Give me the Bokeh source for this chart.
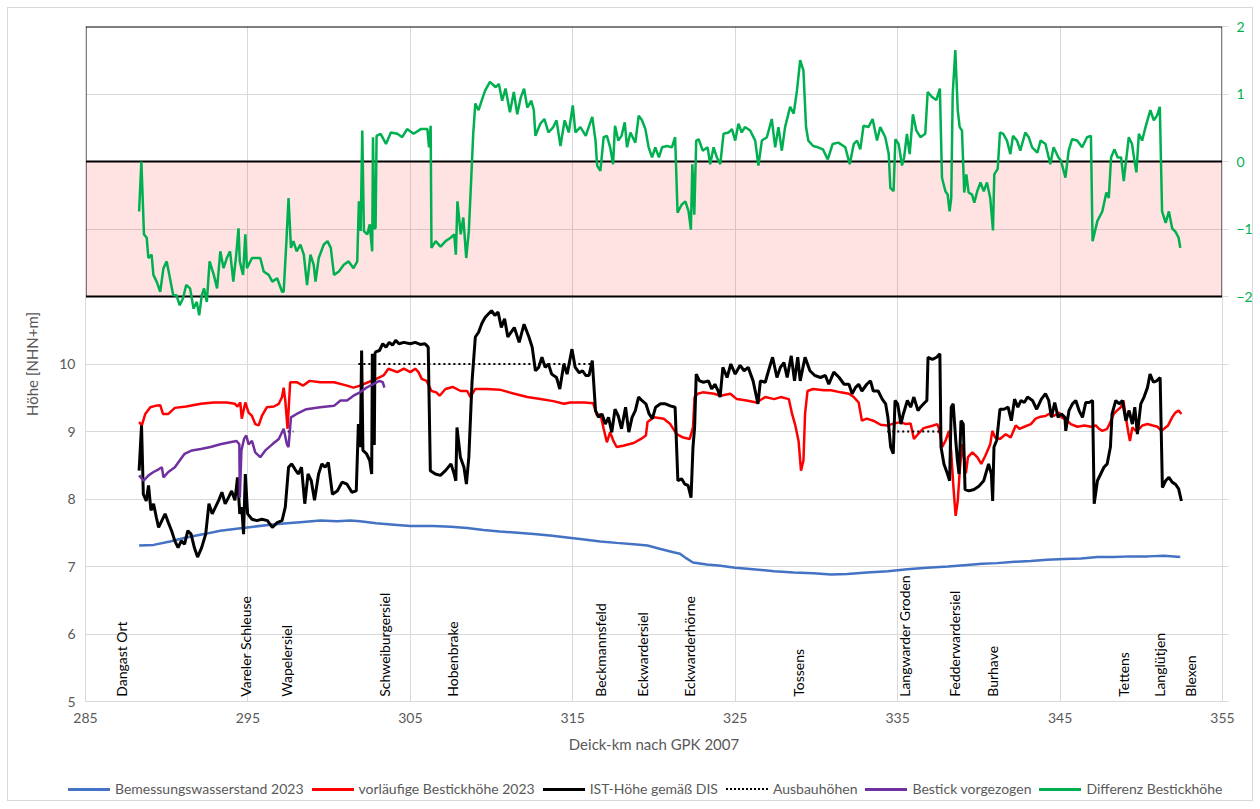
import math
from bokeh.plotting import figure
from bokeh.layouts import column
from bokeh.models import Range1d, LinearAxis, FixedTicker, Div, InlineStyleSheet
from bokeh.core.properties import value
from bokeh.embed import file_html
from bokeh.resources import INLINE

# ---------------- data ----------------
km_axis_ticks = [285, 295, 305, 315, 325, 335, 345, 355]
hoehe_ticks = [5, 6, 7, 8, 9, 10, 11, 12, 13, 14, 15]
diff_ticks = [-8, -7, -6, -5, -4, -3, -2, -1, 0, 1, 2]

bem_km = [288.3, 289.2, 290.2, 291.2, 292.3, 293.3, 294.3, 295.35, 296.4, 297.4, 298.4, 299.45, 300.5, 301.3, 301.9,
          302.9, 304.0, 305.0, 306.4, 307.5, 308.5, 309.5, 310.5, 311.6, 312.6, 313.6, 314.65, 315.7, 316.7, 317.7,
          318.75, 319.6, 320.4, 321.2, 321.6, 322.0, 322.4, 323.25, 324.1, 325.0, 326.1, 327.4, 328.6, 329.8, 330.9,
          331.9, 333.1, 334.4, 335.6, 336.8, 338.1, 339.1, 340.2, 341.1, 342.2, 343.2, 344.2, 345.25, 346.3, 347.3,
          348.3, 349.35, 350.4, 351.4, 352.4]
bem_h = [7.31, 7.32, 7.37, 7.43, 7.48, 7.53, 7.56, 7.59, 7.62, 7.64, 7.66, 7.68, 7.67, 7.68, 7.67,
         7.64, 7.62, 7.60, 7.60, 7.59, 7.57, 7.54, 7.52, 7.50, 7.48, 7.46, 7.43, 7.40, 7.37, 7.35,
         7.33, 7.31, 7.26, 7.21, 7.19, 7.12, 7.06, 7.03, 7.01, 6.98, 6.96, 6.93, 6.91, 6.90, 6.88,
         6.89, 6.91, 6.93, 6.96, 6.98, 7.00, 7.02, 7.04, 7.05, 7.07, 7.08, 7.10, 7.11, 7.12, 7.14,
         7.14, 7.15, 7.15, 7.16, 7.14]

best_km = [288.30, 288.47, 288.68, 288.99, 289.30, 289.60, 289.77, 290.10, 290.50, 291.20, 292.10, 292.90, 293.70,
           294.20, 294.36, 294.53, 294.62, 294.84, 295.04, 295.25, 295.45, 295.66, 295.86, 296.17, 296.60, 296.90,
           297.10, 297.20, 297.30, 297.44, 297.60, 298.00, 298.40, 298.80, 299.45, 300.30, 301.10, 301.50, 301.90,
           302.40, 302.90, 303.35, 303.65, 304.20, 304.60, 305.00, 305.30, 305.50, 305.70, 306.00, 306.30, 306.60,
           306.80, 307.16, 307.60, 308.10, 308.50, 308.70, 309.00, 309.70, 310.50, 311.40, 312.20, 313.00, 313.80,
           314.45, 314.85, 315.70, 316.25, 316.50, 316.70, 316.90, 317.10, 317.30, 317.50, 317.70, 318.10, 318.75,
           319.20, 319.50, 319.60, 320.00, 320.60, 321.00, 321.40, 321.80, 322.20, 322.40, 322.50, 322.70, 323.00,
           323.70, 324.10, 324.70, 325.10, 325.70, 326.30, 326.85, 327.40, 327.80, 328.30, 328.50, 328.70, 328.90,
           329.05, 329.20, 329.30, 329.45, 329.80, 330.45, 330.90, 331.50, 332.00, 332.30, 332.60, 332.80, 333.10,
           333.50, 333.95, 334.35, 334.80, 335.20, 335.50, 335.80, 336.00, 336.25, 336.60, 337.20, 337.44, 337.55,
           337.75, 337.96, 338.16, 338.30, 338.43, 338.57, 338.70, 338.84, 338.98, 339.08, 339.20, 339.33, 339.60,
           339.90, 340.15, 340.40, 340.70, 340.83, 341.00, 341.30, 341.65, 341.96, 342.27, 342.50, 342.80, 343.20,
           343.50, 343.80, 344.10, 344.30, 344.60, 344.94, 345.10, 345.45, 345.66, 346.07, 346.50, 346.90, 347.20,
           347.40, 347.60, 347.90, 348.10, 348.30, 348.50, 348.74, 348.90, 349.05, 349.20, 349.30, 349.45, 349.66,
           349.87, 350.07, 350.38, 350.70, 351.00, 351.24, 351.40, 351.65, 351.90, 352.10, 352.30, 352.47]
best_h = [9.14, 9.09, 9.26, 9.36, 9.38, 9.39, 9.26, 9.26, 9.35, 9.37, 9.41, 9.43, 9.43,
          9.41, 9.37, 9.43, 9.19, 9.43, 9.28, 9.23, 9.11, 9.09, 9.23, 9.36, 9.37, 9.41,
          9.51, 9.65, 9.46, 9.04, 9.73, 9.73, 9.68, 9.75, 9.73, 9.73, 9.68, 9.65, 9.68,
          9.73, 9.78, 9.83, 9.93, 9.88, 9.93, 9.88, 9.93, 9.88, 9.78, 9.75, 9.60, 9.58,
          9.53, 9.63, 9.66, 9.60, 9.60, 9.51, 9.63, 9.63, 9.62, 9.56, 9.51, 9.48, 9.45,
          9.41, 9.43, 9.43, 9.42, 9.23, 9.26, 9.04, 8.84, 8.99, 8.86, 8.77, 8.79, 8.83,
          8.89, 8.94, 9.14, 9.21, 9.19, 9.11, 8.96, 8.91, 8.89, 9.06, 9.51, 9.56, 9.58,
          9.56, 9.53, 9.56, 9.48, 9.46, 9.43, 9.51, 9.48, 9.51, 9.48, 9.26, 9.09, 8.86,
          8.42, 8.57, 9.26, 9.60, 9.63, 9.61, 9.61, 9.58, 9.56, 9.51, 9.43, 9.16, 9.19,
          9.16, 9.10, 9.09, 9.12, 9.14, 9.11, 9.12, 8.89, 8.96, 9.05, 9.09, 9.11, 9.04,
          8.77, 8.87, 9.01, 8.69, 8.19, 7.75, 7.97, 8.47, 8.81, 8.62, 8.38, 8.62, 8.69,
          8.62, 8.52, 8.64, 8.81, 9.01, 8.91, 8.89, 8.96, 8.91, 9.09, 9.04, 9.07, 9.11,
          9.19, 9.22, 9.23, 9.26, 9.23, 9.28, 9.21, 9.16, 9.11, 9.07, 9.09, 9.07, 9.09,
          9.04, 9.01, 9.04, 9.14, 9.26, 9.31, 9.36, 9.46, 9.21, 8.99, 8.86, 9.06, 9.01,
          9.04, 9.09, 9.11, 9.09, 9.07, 9.01, 9.04, 9.09, 9.21, 9.28, 9.31, 9.26]

ist_km = [288.30, 288.45, 288.56, 288.74, 288.88, 289.03, 289.19, 289.36, 289.50, 289.70, 289.90, 290.10, 290.30,
          290.50, 290.70, 290.90, 291.10, 291.30, 291.50, 291.70, 291.90, 292.15, 292.40, 292.60, 292.80, 293.00,
          293.20, 293.40, 293.60, 293.80, 294.00, 294.20, 294.36, 294.50, 294.62, 294.73, 294.84, 294.98, 295.25,
          295.55, 295.86, 296.20, 296.50, 296.80, 297.10, 297.30, 297.50, 297.70, 297.90, 298.10, 298.30, 298.50,
          298.70, 298.90, 299.10, 299.35, 299.55, 299.75, 299.95, 300.20, 300.50, 300.80, 301.10, 301.40, 301.67,
          301.80, 301.92, 302.00, 302.08, 302.30, 302.50, 302.62, 302.66, 302.70, 302.74, 302.78, 302.82, 302.86,
          303.10, 303.30, 303.50, 303.70, 303.90, 304.10, 304.30, 304.60, 305.00, 305.30, 305.60, 305.90, 306.10,
          306.23, 306.54, 306.85, 307.16, 307.50, 307.70, 307.80, 307.87, 308.08, 308.30, 308.45, 308.60, 308.80,
          309.00, 309.20, 309.40, 309.60, 309.80, 310.00, 310.20, 310.40, 310.60, 310.80, 311.00, 311.40, 311.70,
          312.00, 312.30, 312.50, 312.70, 312.90, 313.10, 313.30, 313.50, 313.70, 314.00, 314.20, 314.45, 314.65,
          314.95, 315.15, 315.40, 315.60, 315.80, 316.00, 316.20, 316.40, 316.60, 316.80, 317.00, 317.20, 317.40,
          317.60, 317.80, 318.00, 318.25, 318.45, 318.65, 318.85, 319.05, 319.25, 319.50, 319.70, 319.90, 320.10,
          320.40, 320.70, 321.00, 321.30, 321.47, 321.70, 321.90, 322.10, 322.28, 322.40, 322.50, 322.60, 322.80,
          323.05, 323.35, 323.55, 323.75, 323.95, 324.07, 324.24, 324.50, 324.73, 325.00, 325.30, 325.55, 325.80,
          326.10, 326.40, 326.55, 326.85, 327.05, 327.30, 327.57, 327.78, 328.00, 328.20, 328.45, 328.65, 328.85,
          329.00, 329.30, 329.60, 329.90, 330.25, 330.55, 330.76, 331.07, 331.40, 331.70, 332.00, 332.20, 332.40,
          332.60, 332.80, 333.10, 333.33, 333.50, 333.80, 334.05, 334.26, 334.40, 334.57, 334.73, 334.84, 335.00,
          335.20, 335.35, 335.60, 335.80, 336.00, 336.25, 336.40, 336.60, 336.80, 336.87, 337.14, 337.40, 337.60,
          337.67, 337.85, 338.07, 338.20, 338.30, 338.42, 338.58, 338.68, 338.78, 338.90, 339.04, 339.15, 339.40,
          339.70, 340.00, 340.30, 340.60, 340.77, 340.85, 340.93, 341.10, 341.30, 341.55, 341.80, 342.00, 342.20,
          342.40, 342.60, 342.80, 343.00, 343.30, 343.56, 343.85, 344.10, 344.30, 344.47, 344.67, 344.88, 345.08,
          345.30, 345.35, 345.55, 345.76, 345.97, 346.17, 346.38, 346.58, 346.79, 347.00, 347.10, 347.30, 347.50,
          347.70, 347.90, 348.10, 348.20, 348.43, 348.63, 348.84, 349.05, 349.25, 349.45, 349.60, 349.76, 349.97,
          350.17, 350.38, 350.54, 350.75, 350.95, 351.16, 351.30, 351.50, 351.70, 351.90, 352.10, 352.30, 352.47]
ist_h = [8.42, 9.09, 8.07, 7.97, 8.20, 7.83, 7.93, 7.73, 7.58, 7.68, 7.78, 7.65, 7.53,
         7.38, 7.28, 7.38, 7.33, 7.53, 7.48, 7.28, 7.14, 7.28, 7.48, 7.93, 7.78, 7.88,
         7.98, 8.10, 7.93, 8.02, 8.12, 7.98, 8.32, 7.78, 7.88, 7.48, 8.37, 7.78, 7.70,
         7.68, 7.70, 7.68, 7.58, 7.65, 7.68, 7.88, 8.47, 8.52, 8.44, 8.37, 8.47, 7.93,
         8.37, 8.27, 7.98, 8.37, 8.52, 8.47, 8.54, 8.07, 8.12, 8.25, 8.22, 8.10, 8.12,
         9.11, 8.77, 10.20, 8.72, 8.67, 8.57, 8.37, 10.15, 8.80, 10.15, 8.80, 10.15, 10.18,
         10.20, 10.30, 10.25, 10.32, 10.28, 10.35, 10.30, 10.32, 10.30, 10.32, 10.29, 10.30, 10.25,
         8.42, 8.37, 8.35, 8.42, 8.52, 8.37, 8.27, 9.06, 8.62, 8.47, 8.22, 8.62, 9.75,
         10.40, 10.47, 10.60, 10.69, 10.74, 10.79, 10.72, 10.77, 10.54, 10.67, 10.40, 10.54, 10.32,
         10.59, 10.40, 10.25, 9.90, 9.95, 10.10, 9.95, 10.00, 9.85, 9.80, 9.63, 10.00, 9.85,
         10.22, 9.95, 9.87, 9.90, 9.83, 9.83, 10.05, 9.31, 9.21, 9.26, 9.11, 9.21, 8.99,
         9.33, 9.23, 9.04, 9.36, 8.99, 9.21, 9.31, 9.51, 9.46, 9.41, 9.26, 9.19, 9.36,
         9.41, 9.41, 9.38, 9.36, 8.27, 8.30, 8.22, 8.20, 8.02, 8.77, 9.06, 9.85, 9.75,
         9.73, 9.75, 9.63, 9.70, 9.60, 9.51, 9.95, 9.80, 10.00, 9.85, 9.98, 9.90, 9.95,
         9.75, 9.41, 9.75, 9.73, 9.90, 10.10, 9.80, 9.95, 10.02, 9.80, 10.12, 9.75, 10.10,
         9.75, 10.10, 9.90, 9.83, 9.80, 9.83, 9.70, 9.88, 9.80, 9.70, 9.70, 9.56, 9.65,
         9.70, 9.60, 9.70, 9.75, 9.60, 9.60, 9.48, 9.41, 9.21, 8.77, 8.67, 9.46, 9.41,
         9.11, 9.26, 9.46, 9.36, 9.51, 9.31, 9.36, 9.41, 9.46, 10.10, 10.07, 10.10, 10.15,
         8.77, 8.52, 8.37, 8.27, 9.36, 9.41, 8.86, 8.57, 8.37, 9.16, 9.11, 8.14, 8.12,
         8.14, 8.19, 8.27, 8.52, 8.37, 7.97, 8.77, 8.87, 9.33, 9.33, 9.36, 9.16, 9.48,
         9.36, 9.46, 9.43, 9.51, 9.46, 9.33, 9.48, 9.56, 9.46, 9.21, 9.43, 9.21, 9.26,
         9.21, 9.01, 9.31, 9.41, 9.46, 9.31, 9.21, 9.43, 9.43, 9.46, 7.93, 8.27, 8.37,
         8.47, 8.52, 8.77, 9.26, 9.46, 9.41, 9.46, 9.16, 9.31, 9.11, 9.36, 8.96, 9.41,
         9.51, 9.65, 9.85, 9.73, 9.75, 9.80, 8.17, 8.27, 8.32, 8.25, 8.22, 8.15, 7.97]

ausbau_km = [297.45, 297.80, float("nan"), 301.80, 316.20, float("nan"), 334.36, 337.55]
ausbau_h = [9.0, 9.0, float("nan"), 10.0, 10.0, float("nan"), 9.0, 9.0]

vorg_km = [288.30, 288.58, 288.88, 289.19, 289.50, 289.70, 289.80, 290.10, 290.50, 290.80, 291.10, 291.55, 292.10,
           292.70, 293.30, 293.90, 294.30, 294.47, 294.50, 294.60, 294.76, 294.90, 295.04, 295.25, 295.45, 295.76,
           296.07, 296.50, 296.90, 297.20, 297.40, 297.50, 297.65, 298.00, 298.60, 299.45, 300.30, 300.70, 301.10,
           301.50, 301.90, 302.30, 302.70, 303.10, 303.30, 303.40]
vorg_h = [8.35, 8.27, 8.35, 8.40, 8.44, 8.47, 8.32, 8.40, 8.47, 8.57, 8.67, 8.72, 8.74,
          8.77, 8.81, 8.84, 8.86, 8.81, 8.02, 8.72, 8.89, 8.94, 8.81, 8.86, 8.69, 8.62,
          8.72, 8.81, 8.89, 9.04, 8.81, 8.77, 9.21, 9.26, 9.33, 9.36, 9.38, 9.46, 9.46,
          9.53, 9.58, 9.65, 9.70, 9.75, 9.73, 9.65]

diff_km = [288.30, 288.44, 288.60, 288.77, 288.87, 289.07, 289.18, 289.38, 289.60, 289.80, 290.00, 290.20, 290.40,
           290.60, 290.80, 291.00, 291.20, 291.44, 291.65, 291.85, 292.00, 292.16, 292.30, 292.47, 292.64, 292.90,
           293.10, 293.30, 293.50, 293.70, 293.90, 294.10, 294.28, 294.42, 294.50, 294.70, 294.84, 294.94, 295.25,
           295.55, 295.76, 295.97, 296.28, 296.50, 296.80, 297.10, 297.20, 297.37, 297.50, 297.65, 297.80, 298.00,
           298.23, 298.44, 298.64, 298.85, 299.05, 299.16, 299.36, 299.67, 299.90, 300.10, 300.30, 300.60, 300.90,
           301.20, 301.50, 301.73, 301.83, 301.94, 302.04, 302.14, 302.35, 302.50, 302.65, 302.70, 302.78, 302.86,
           302.92, 303.17, 303.50, 303.80, 304.20, 304.50, 304.80, 305.20, 305.64, 306.05, 306.15, 306.25, 306.30,
           306.56, 306.86, 307.17, 307.48, 307.70, 307.80, 307.90, 308.10, 308.26, 308.44, 308.60, 308.75, 308.87,
           309.00, 309.20, 309.40, 309.60, 309.90, 310.25, 310.45, 310.65, 310.86, 311.13, 311.37, 311.58, 311.80,
           312.00, 312.20, 312.45, 312.60, 312.70, 313.00, 313.25, 313.50, 313.80, 314.00, 314.24, 314.50, 314.75,
           315.00, 315.16, 315.47, 315.80, 315.98, 316.20, 316.40, 316.50, 316.70, 316.90, 317.10, 317.30, 317.48,
           317.60, 317.80, 318.00, 318.20, 318.34, 318.55, 318.85, 319.06, 319.26, 319.47, 319.67, 319.88, 320.08,
           320.30, 320.50, 320.80, 321.10, 321.30, 321.45, 321.70, 321.93, 322.13, 322.27, 322.36, 322.48, 322.60,
           322.75, 323.00, 323.30, 323.46, 323.67, 323.87, 324.08, 324.28, 324.60, 324.80, 325.00, 325.20, 325.40,
           325.60, 325.92, 326.23, 326.43, 326.64, 326.95, 327.25, 327.46, 327.66, 327.87, 328.07, 328.38, 328.60,
           328.80, 329.00, 329.20, 329.36, 329.50, 329.80, 330.10, 330.40, 330.70, 331.00, 331.35, 331.78, 332.05,
           332.30, 332.50, 332.70, 332.90, 333.20, 333.46, 333.73, 333.93, 334.24, 334.45, 334.55, 334.75, 334.86,
           335.06, 335.27, 335.40, 335.57, 335.74, 335.94, 336.15, 336.40, 336.70, 336.85, 337.10, 337.38, 337.60,
           337.73, 337.94, 338.08, 338.20, 338.30, 338.39, 338.55, 338.70, 338.82, 338.96, 339.10, 339.23, 339.37,
           339.58, 339.72, 339.90, 340.10, 340.30, 340.50, 340.70, 340.87, 340.95, 341.16, 341.30, 341.50, 341.73,
           341.94, 342.10, 342.35, 342.55, 342.86, 343.07, 343.28, 343.60, 343.80, 344.10, 344.40, 344.60, 344.90,
           345.06, 345.33, 345.53, 345.74, 346.05, 346.36, 346.66, 346.90, 347.00, 347.30, 347.60, 347.85, 348.00,
           348.14, 348.35, 348.55, 348.76, 348.92, 349.23, 349.43, 349.58, 349.70, 349.85, 350.05, 350.26, 350.46,
           350.56, 350.77, 350.97, 351.14, 351.28, 351.50, 351.70, 351.90, 352.10, 352.30, 352.40]
diff_v = [-0.74, 0.00, -1.08, -1.13, -1.43, -1.38, -1.68, -1.78, -1.93, -1.58, -1.48, -1.73, -1.98,
          -1.98, -2.13, -2.03, -1.83, -1.88, -2.18, -2.08, -2.28, -1.98, -1.88, -2.08, -1.48, -1.68,
          -1.88, -1.33, -1.58, -1.43, -1.33, -1.78, -1.38, -0.99, -1.48, -1.68, -1.08, -1.58, -1.43,
          -1.43, -1.43, -1.63, -1.68, -1.78, -1.73, -1.93, -1.93, -1.18, -0.54, -1.28, -1.18, -1.33,
          -1.23, -1.38, -1.83, -1.38, -1.53, -1.78, -1.43, -1.23, -1.18, -1.28, -1.68, -1.63, -1.53,
          -1.48, -1.58, -1.48, -0.59, -1.03, 0.46, -1.03, -1.08, -0.93, -1.33, 0.36, -1.00, -0.98,
          0.38, 0.41, 0.26, 0.43, 0.41, 0.36, 0.48, 0.41, 0.48, 0.48, 0.21, 0.53, -1.28,
          -1.18, -1.26, -1.18, -1.13, -1.08, -1.38, -0.59, -1.08, -0.83, -1.43, -1.03, -0.24, 0.41,
          0.86, 0.76, 0.91, 1.05, 1.18, 1.10, 1.15, 0.90, 1.08, 0.73, 1.03, 0.70, 0.95,
          1.08, 0.80, 0.90, 0.76, 0.38, 0.56, 0.63, 0.43, 0.51, 0.61, 0.23, 0.61, 0.43,
          0.83, 0.43, 0.51, 0.38, 0.51, 0.66, 0.31, -0.06, -0.14, 0.36, 0.38, 0.21, -0.04,
          0.53, 0.31, 0.38, 0.58, 0.21, 0.43, 0.28, 0.68, 0.61, 0.48, 0.21, 0.06, 0.21,
          0.06, 0.21, 0.23, 0.21, 0.36, -0.76, -0.64, -0.59, -0.74, -1.01, -0.04, -0.79, 0.31,
          0.33, 0.16, 0.21, -0.04, 0.21, 0.06, -0.04, 0.41, 0.43, 0.48, 0.31, 0.56, 0.43,
          0.51, 0.46, 0.31, -0.06, 0.31, 0.36, 0.63, 0.21, 0.51, 0.16, 0.51, 0.81, 0.71,
          1.05, 1.50, 1.35, 0.51, 0.31, 0.23, 0.21, 0.18, 0.03, 0.26, 0.28, 0.21, -0.04,
          0.26, 0.31, 0.18, 0.53, 0.51, 0.63, 0.31, 0.51, 0.36, 0.11, -0.39, -0.44, 0.33,
          0.26, -0.06, 0.06, 0.41, 0.11, 0.70, 0.46, 0.36, 0.41, 1.03, 0.96, 0.91, 1.08,
          -0.24, -0.44, -0.49, -0.74, -0.54, 1.00, 1.65, 0.76, 0.51, 0.46, -0.46, -0.19, -0.46,
          -0.49, -0.61, -0.44, -0.31, -0.44, -0.31, -0.54, -1.02, -0.19, -0.11, 0.43, 0.41, 0.31,
          0.11, 0.38, 0.31, 0.16, 0.43, 0.36, 0.21, 0.13, 0.31, 0.26, -0.04, 0.21, 0.06,
          0.01, -0.24, 0.16, 0.33, 0.31, 0.21, 0.36, 0.38, -1.18, -0.88, -0.74, -0.46, -0.54,
          0.06, 0.18, 0.06, 0.06, -0.29, 0.36, 0.26, 0.01, -0.16, 0.41, 0.31, 0.51, 0.68,
          0.76, 0.61, 0.68, 0.81, -0.74, -0.91, -0.74, -0.99, -1.04, -1.13, -1.28]

station_names = ["Dangast Ort", "Vareler Schleuse", "Wapelersiel", "Schweiburgersiel", "Hobenbrake",
                 "Beckmannsfeld", "Eckwardersiel", "Eckwarderhörne", "Tossens", "Langwarder Groden",
                 "Fedderwardersiel", "Burhave", "Tettens", "Langlütjen", "Blexen"]
station_km = [287.2, 294.85, 297.35, 303.4, 307.6, 316.7, 319.3, 322.2, 328.9, 335.45, 338.5, 340.85,
              348.9, 351.1, 353.0]

series_labels = ["Bemessungswasserstand 2023", "vorläufige Bestickhöhe 2023", "IST-Höhe gemäß DIS",
                 "Ausbauhöhen", "Bestick vorgezogen", "Differenz Bestickhöhe"]

# ---------------- styling constants ----------------
FONT = "Lato"
GRAY = "#595959"
GRID = "#d9d9d9"
GREEN = "#00B050"
X_START, X_END = 285, 355
Y_START, Y_END = 5, 15
D_START, D_END = -8, 2
PANEL_LOW, PANEL_ZERO, PANEL_HIGH = -2, 0, 2
LABEL_Y = 5.07

styles = [
    dict(line_color="#4472C4", line_width=2.5),
    dict(line_color="#FF0000", line_width=2.5),
    dict(line_color="black", line_width=3),
    dict(line_color="black", line_width=2, line_dash="2 3"),
    dict(line_color="#7030A0", line_width=2.5),
    dict(line_color=GREEN, line_width=2.5),
]
legend_css = ["3px solid #4472C4", "3px solid #FF0000", "3px solid #000000",
              "2px dotted #000000", "3px solid #7030A0", "3px solid #00B050"]

W = 1260
MAIN_H = 770
LEG_H = 38

p = figure(width=W, height=MAIN_H, x_range=Range1d(X_START, X_END), y_range=Range1d(Y_START, Y_END),
           output_backend="svg", toolbar_location=None,
           min_border_left=85, min_border_right=38, min_border_top=26, min_border_bottom=MAIN_H - 701)
p.extra_y_ranges = {"diff": Range1d(D_START, D_END)}
p.outline_line_color = None
p.background_fill_color = "white"
p.border_fill_color = "white"

# axes
p.xaxis.ticker = FixedTicker(ticks=km_axis_ticks)
p.xgrid.ticker = FixedTicker(ticks=km_axis_ticks)
p.yaxis.ticker = FixedTicker(ticks=hoehe_ticks)
p.ygrid.ticker = FixedTicker(ticks=hoehe_ticks)
p.yaxis.major_label_overrides = {t: "" for t in hoehe_ticks if t > 10}
for ax in (p.xaxis[0], p.yaxis[0]):
    ax.axis_line_color = GRID
    ax.major_tick_out = 0
    ax.major_tick_in = 0
    ax.minor_tick_out = 0
    ax.minor_tick_in = 0
    ax.major_label_text_color = GRAY
    ax.major_label_text_font = FONT
    ax.major_label_text_font_size = "14px"
    ax.axis_label_text_color = GRAY
    ax.axis_label_text_font = FONT
    ax.axis_label_text_font_size = "15px"
    ax.axis_label_text_font_style = "normal"
p.xaxis.axis_label = "Deick-km nach GPK 2007"
p.yaxis.axis_label = "Höhe [NHN+m]"
p.xaxis.major_label_standoff = 11
p.xaxis.axis_label_standoff = 9
p.yaxis.major_label_standoff = 10
p.yaxis.axis_label_standoff = 15
p.xgrid.grid_line_color = GRID
p.ygrid.grid_line_color = GRID

rax = LinearAxis(y_range_name="diff", ticker=FixedTicker(ticks=diff_ticks))
rax.major_label_overrides = {t: "" for t in diff_ticks if t < PANEL_LOW}
rax.axis_line_color = GRID
rax.major_tick_line_color = GRID
rax.major_tick_out = 6
rax.major_tick_in = 0
rax.minor_tick_out = 0
rax.minor_tick_in = 0
rax.major_label_standoff = 8
rax.major_label_text_color = GREEN
rax.major_label_text_font = FONT
rax.major_label_text_font_size = "14px"
p.add_layout(rax, "right")

# difference panel background
p.quad(left=X_START, right=X_END, bottom=PANEL_LOW, top=PANEL_ZERO, y_range_name="diff",
       fill_color="#ff0000", fill_alpha=0.11, line_color=None)
p.quad(left=X_START, right=X_END, bottom=PANEL_LOW, top=PANEL_HIGH, y_range_name="diff",
       fill_color=None, line_color="black", line_width=2)
p.line([X_START, X_END], [PANEL_ZERO, PANEL_ZERO], y_range_name="diff", line_color="black", line_width=2)

# station labels
p.text(x=station_km, y=[LABEL_Y] * len(station_km), text=station_names, angle=math.pi / 2,
       text_align="left", text_baseline="middle", text_font=value(FONT), text_font_size="14px",
       text_color="black")

# series
p.line(bem_km, bem_h, **styles[0])
p.line(best_km, best_h, **styles[1])
p.line(ist_km, ist_h, **styles[2])
p.line(ausbau_km, ausbau_h, **styles[3])
p.line(vorg_km, vorg_h, **styles[4])
p.line(diff_km, diff_v, y_range_name="diff", **styles[5])

# legend strip below the chart (HTML)
parts = []
for lab, css in zip(series_labels, legend_css):
    parts.append(
        '<span style="display:inline-block;width:42px;height:0;border-top:%s;margin-right:5px;'
        'vertical-align:middle;"></span>'
        '<span style="margin-right:8px;vertical-align:middle;">%s</span>' % (css, lab))
html = ('<div style="position:relative;width:%dpx;height:%dpx;">'
        '<div style="position:absolute;left:68px;top:9px;white-space:nowrap;font-family:Lato;'
        'font-size:14px;line-height:18px;color:%s;">%s</div></div>') % (W, LEG_H, GRAY, "".join(parts))
leg = Div(text=html, width=W, height=LEG_H, margin=0)

layout = column(p, leg, spacing=0)
layout.stylesheets = [InlineStyleSheet(css=(
    ":host { position: relative; }"
    ":host::after { content: ''; position: absolute; left: 7px; top: 7px; right: 7px; bottom: 7px;"
    " border: 1px solid #d9d9d9; pointer-events: none; z-index: 1000; }"))]

open("out.html", "w").write(file_html(layout, INLINE))
